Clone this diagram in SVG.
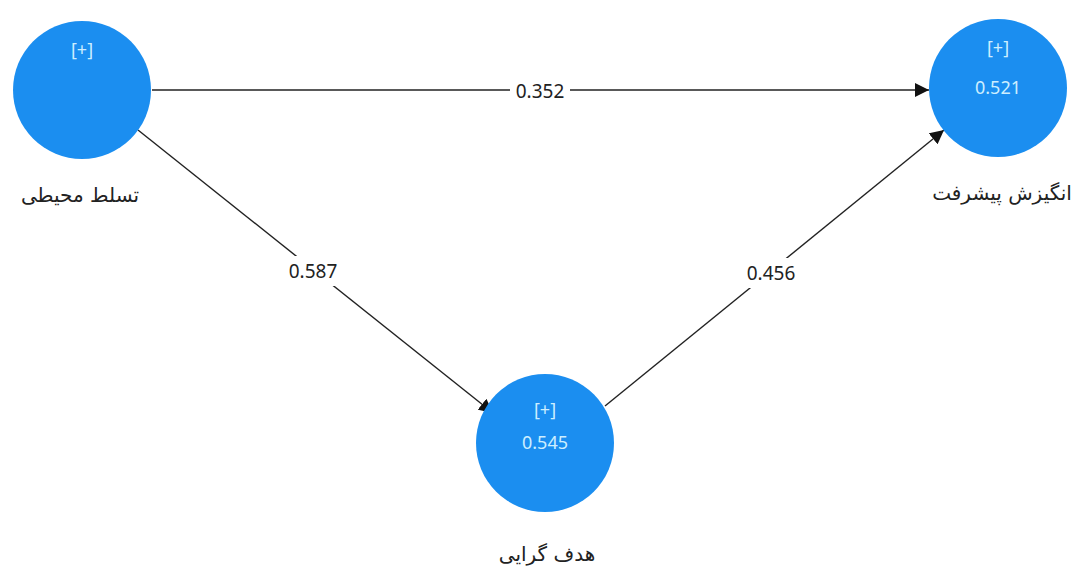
<svg xmlns="http://www.w3.org/2000/svg" width="1077" height="570" viewBox="0 0 1077 570">
<style>
.node{fill:#1b8ef0;}
.inner{font-family:"Noto Sans","Open Sans",sans-serif;font-size:18px;fill:#cdeeff;text-anchor:middle;}
.lbl{font-family:"DejaVu Sans","Noto Sans",sans-serif;font-size:20px;fill:#222;text-anchor:middle;}
.edge{stroke:#222;stroke-width:1.4;fill:none;marker-end:url(#ah);}
.elbl{font-family:"Noto Sans","Open Sans",sans-serif;font-size:19px;fill:#222;text-anchor:middle;}
.bg{fill:#fff;}
</style>
<defs>
<marker id="ah" viewBox="0 0 10 10" refX="10" refY="5" markerWidth="14" markerHeight="14" markerUnits="userSpaceOnUse" orient="auto">
<path d="M0,0 L10,5 L0,10 z" fill="#111"/>
</marker>
</defs>
<rect width="1077" height="570" fill="#fff"/>
<g id="connectors">
<line class="edge" x1="152" y1="90" x2="929" y2="90"/>
<line class="edge" x1="138" y1="130" x2="493" y2="413"/>
<line class="edge" x1="605" y1="406" x2="944" y2="130"/>
<rect class="bg" x="510" y="78" width="60" height="24"/>
<text class="elbl" x="540" y="98">0.352</text>
<rect class="bg" x="281" y="256" width="64" height="30"/>
<text class="elbl" x="313" y="278">0.587</text>
<rect class="bg" x="739" y="258" width="64" height="30"/>
<text class="elbl" x="771" y="280">0.456</text>
</g>
<g id="node-tasallot">
<circle class="node" cx="82" cy="90" r="69"/>
<text class="inner" x="82" y="56">[+]</text>
<text class="lbl" x="80" y="202" direction="rtl" unicode-bidi="embed">تسلط محیطی</text>
</g>
<g id="node-angizesh">
<circle class="node" cx="998" cy="88" r="69"/>
<text class="inner" x="998" y="54">[+]</text>
<text class="inner" x="998" y="94">0.521</text>
<text class="lbl" x="1002" y="200" direction="rtl" unicode-bidi="embed">انگیزش پیشرفت</text>
</g>
<g id="node-hadaf">
<circle class="node" cx="545" cy="443" r="69"/>
<text class="inner" x="545" y="416">[+]</text>
<text class="inner" x="545" y="449">0.545</text>
<text class="lbl" x="547" y="561" direction="rtl" unicode-bidi="embed">هدف گرایی</text>
</g>
</svg>
